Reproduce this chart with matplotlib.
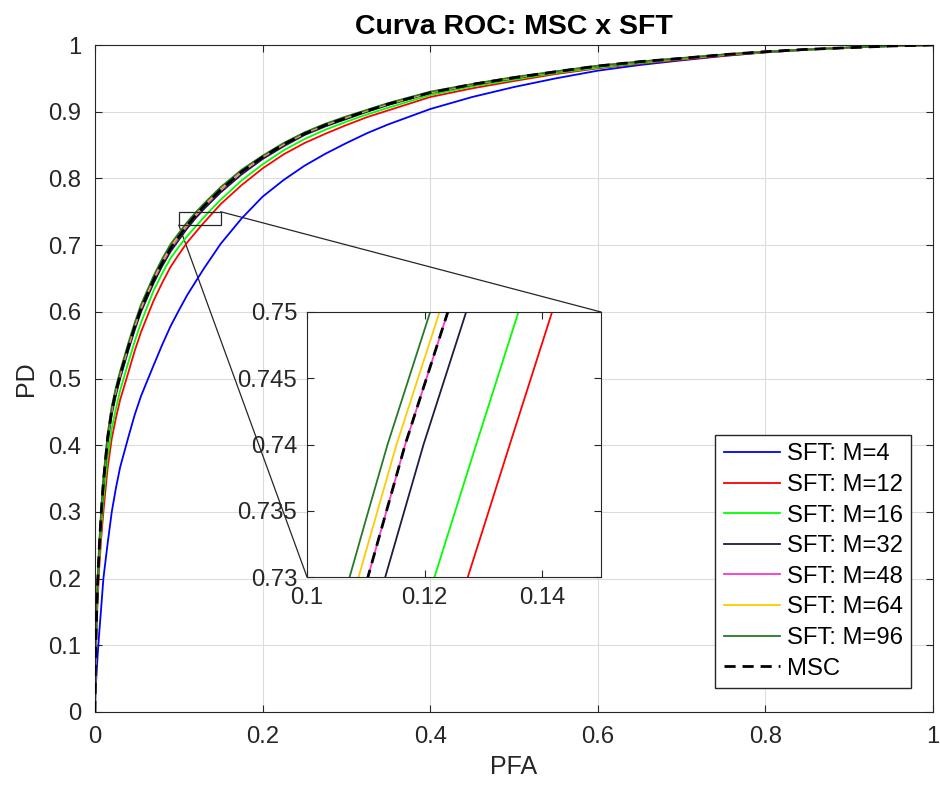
import matplotlib
matplotlib.use('Agg')
import matplotlib.pyplot as plt
from matplotlib.patches import Rectangle, ConnectionPatch
from matplotlib.ticker import FuncFormatter

plt.rcParams['font.family'] = ['Liberation Sans', 'DejaVu Sans']

PFA_GRID = [0, 0.0005, 0.0015, 0.003, 0.005, 0.0075, 0.01, 0.015, 0.02, 0.025,
            0.03, 0.04, 0.0475, 0.055, 0.07, 0.08, 0.09, 0.1, 0.11, 0.13,
            0.15, 0.175, 0.2, 0.225, 0.25, 0.275, 0.3, 0.325, 0.35, 0.4,
            0.45, 0.5, 0.55, 0.6, 0.65, 0.7, 0.75, 0.8, 0.85, 0.9,
            0.95, 1.0]

# Detection probability of each detector on PFA_GRID
PD_M4 = [0, 0.03, 0.05, 0.082, 0.118, 0.158, 0.20, 0.252, 0.30, 0.336,
         0.367, 0.413, 0.446, 0.474, 0.520, 0.550, 0.578, 0.602, 0.625, 0.665,
         0.702, 0.740, 0.7726, 0.7975, 0.819, 0.837, 0.853, 0.868, 0.881, 0.904,
         0.922, 0.937, 0.950, 0.9615, 0.970, 0.977, 0.9835, 0.989, 0.993, 0.996,
         0.9985, 1.0]
PD_M12 = [0, 0.055, 0.11, 0.165, 0.215, 0.262, 0.30, 0.365, 0.41, 0.441,
          0.468, 0.51, 0.542, 0.570, 0.617, 0.643, 0.667, 0.686, 0.704, 0.7337,
          0.7615, 0.790, 0.815, 0.836, 0.853, 0.867, 0.880, 0.892, 0.902, 0.922,
          0.935, 0.946, 0.9565, 0.965, 0.972, 0.978, 0.984, 0.989, 0.993, 0.996,
          0.9985, 1.0]
PD_M16 = [0, 0.06, 0.118, 0.175, 0.228, 0.277, 0.318, 0.382, 0.425, 0.455,
          0.482, 0.525, 0.556, 0.584, 0.632, 0.657, 0.680, 0.6975, 0.7135, 0.7417,
          0.768, 0.797, 0.821, 0.842, 0.859, 0.873, 0.885, 0.896, 0.906, 0.925,
          0.938, 0.948, 0.958, 0.966, 0.973, 0.979, 0.985, 0.9895, 0.993, 0.996,
          0.9985, 1.0]
PD_M32 = [0, 0.065, 0.125, 0.185, 0.24, 0.293, 0.338, 0.403, 0.446, 0.475,
          0.500, 0.543, 0.573, 0.600, 0.643, 0.668, 0.690, 0.7076, 0.725, 0.7541,
          0.779, 0.806, 0.829, 0.848, 0.865, 0.878, 0.889, 0.900, 0.910, 0.928,
          0.940, 0.950, 0.9595, 0.968, 0.9745, 0.980, 0.9855, 0.990, 0.9935, 0.996,
          0.9985, 1.0]
PD_M48 = [0, 0.07, 0.13, 0.19, 0.245, 0.30, 0.345, 0.41, 0.452, 0.481,
          0.505, 0.548, 0.578, 0.605, 0.648, 0.673, 0.695, 0.7126, 0.7295, 0.7583,
          0.783, 0.810, 0.832, 0.851, 0.867, 0.880, 0.891, 0.9015, 0.9115, 0.9285,
          0.941, 0.951, 0.960, 0.9685, 0.975, 0.980, 0.9855, 0.990, 0.9935, 0.996,
          0.9985, 1.0]
PD_M64 = [0, 0.072, 0.133, 0.193, 0.248, 0.303, 0.348, 0.413, 0.455, 0.484,
          0.508, 0.551, 0.581, 0.608, 0.651, 0.676, 0.698, 0.7153, 0.7319, 0.7602,
          0.785, 0.8115, 0.833, 0.852, 0.868, 0.881, 0.892, 0.902, 0.912, 0.929,
          0.941, 0.951, 0.960, 0.9685, 0.975, 0.980, 0.9855, 0.990, 0.9935, 0.996,
          0.9985, 1.0]
PD_M96 = [0, 0.075, 0.136, 0.196, 0.251, 0.306, 0.351, 0.416, 0.458, 0.487,
          0.511, 0.554, 0.584, 0.611, 0.654, 0.679, 0.701, 0.718, 0.7343, 0.7622,
          0.787, 0.813, 0.834, 0.853, 0.869, 0.882, 0.893, 0.903, 0.913, 0.930,
          0.9415, 0.952, 0.9605, 0.969, 0.9752, 0.9805, 0.9858, 0.990, 0.9935, 0.996,
          0.9985, 1.0]
PD_MSC = [0, 0.07, 0.13, 0.19, 0.245, 0.30, 0.345, 0.41, 0.452, 0.481,
          0.505, 0.548, 0.578, 0.605, 0.648, 0.673, 0.695, 0.7126, 0.7295, 0.7583,
          0.783, 0.810, 0.832, 0.851, 0.867, 0.880, 0.891, 0.9015, 0.9115, 0.9285,
          0.941, 0.951, 0.960, 0.9685, 0.975, 0.980, 0.9855, 0.990, 0.9935, 0.996,
          0.9985, 1.0]

# Finer reading inside the zoom window: PFA where each curve hits these PD levels
ZOOM_PD = [0.73, 0.74, 0.75]
ZOOM_PFA_M12 = [0.12735, 0.13449, 0.14168]
ZOOM_PFA_M16 = [0.12169, 0.12877, 0.13596]
ZOOM_PFA_M32 = [0.11331, 0.11982, 0.12707]
ZOOM_PFA_M48 = [0.11036, 0.11670, 0.12395]
ZOOM_PFA_M64 = [0.10878, 0.11523, 0.12254]
ZOOM_PFA_M96 = [0.10725, 0.11370, 0.12095]
ZOOM_PFA_MSC = [0.11036, 0.11670, 0.12395]

LABELS = ['SFT: M=4', 'SFT: M=12', 'SFT: M=16', 'SFT: M=32',
          'SFT: M=48', 'SFT: M=64', 'SFT: M=96', 'MSC']
COLORS = ['#0000ff', '#ff0000', '#00ff00', '#1c1c44',
          '#ff33cc', '#ffcc00', '#267a26', '#000000']

ZOOM_X = (0.1, 0.15)
ZOOM_Y = (0.73, 0.75)


def merge(pd_grid, zoom_pfa):
    # combine the coarse grid with the zoom-window readings, sorted by PFA
    pts = sorted(list(zip(PFA_GRID, pd_grid)) + list(zip(zoom_pfa, ZOOM_PD)))
    return [p[0] for p in pts], [p[1] for p in pts]


curves = [
    (PFA_GRID, PD_M4),
    merge(PD_M12, ZOOM_PFA_M12),
    merge(PD_M16, ZOOM_PFA_M16),
    merge(PD_M32, ZOOM_PFA_M32),
    merge(PD_M48, ZOOM_PFA_M48),
    merge(PD_M64, ZOOM_PFA_M64),
    merge(PD_M96, ZOOM_PFA_M96),
    merge(PD_MSC, ZOOM_PFA_MSC),
]

ink = '#262626'
fs = 17.2
fmt = FuncFormatter(lambda v, _: f'{v:g}')

fig = plt.figure(figsize=(9.4, 7.89), dpi=100)
ax = fig.add_axes([95 / 940, 77 / 789, 838 / 940, 667 / 789])

for (x, y), lab, col in zip(curves, LABELS, COLORS):
    if lab == 'MSC':
        ax.plot(x, y, color=col, lw=2.0, ls=(0, (4, 2.5)), label=lab, zorder=3)
    else:
        ax.plot(x, y, color=col, lw=1.3, label=lab, zorder=2)

ax.set_xlim(0, 1)
ax.set_ylim(0, 1)
ax.set_xticks([0, 0.2, 0.4, 0.6, 0.8, 1.0])
ax.set_yticks([i / 10 for i in range(11)])
ax.xaxis.set_major_formatter(fmt)
ax.yaxis.set_major_formatter(fmt)
ax.grid(True, color='#dcdcdc', lw=0.8)
ax.set_axisbelow(True)
ax.tick_params(direction='in', top=True, right=True, length=5, width=0.8,
               colors=ink, labelsize=fs, pad=10)
for s in ax.spines.values():
    s.set_color(ink)
    s.set_linewidth(0.8)
ax.set_xlabel('PFA', fontsize=18, color=ink, labelpad=5)
ax.set_ylabel('PD', fontsize=18, color=ink, labelpad=7)
ax.set_title('Curva ROC: MSC x SFT', fontsize=20.5, fontweight='bold', pad=8)

ax.legend(loc='lower right', bbox_to_anchor=(0.974, 0.036), borderaxespad=0,
          fontsize=fs, fancybox=False, framealpha=1, edgecolor=ink,
          handlelength=2.35, handletextpad=0.3, labelspacing=0.36, borderpad=0.35)

# zoom window marker on the main axes
ax.add_patch(Rectangle((ZOOM_X[0], ZOOM_Y[0]), ZOOM_X[1] - ZOOM_X[0], ZOOM_Y[1] - ZOOM_Y[0],
                       fill=False, ec=ink, lw=0.9, zorder=4))

# inset axes
axins = fig.add_axes([307 / 940, (789 - 577) / 789, 294 / 940, 265 / 789])
axins.set_zorder(5)
for (x, y), lab, col in zip(curves, LABELS, COLORS):
    if lab == 'MSC':
        axins.plot(x, y, color=col, lw=2.0, ls=(0, (4, 2.5)), zorder=3)
    else:
        axins.plot(x, y, color=col, lw=1.3, zorder=2)
axins.set_xlim(*ZOOM_X)
axins.set_ylim(*ZOOM_Y)
axins.set_xticks([0.1, 0.12, 0.14])
axins.set_yticks([0.73, 0.735, 0.74, 0.745, 0.75])
axins.xaxis.set_major_formatter(fmt)
axins.yaxis.set_major_formatter(fmt)
axins.tick_params(direction='in', top=True, right=True, length=5, width=0.8,
                  colors=ink, labelsize=fs, pad=7)
for s in axins.spines.values():
    s.set_color(ink)
    s.set_linewidth(0.8)

# connector lines from the window to the inset corners
for (xa, ya), (xb, yb) in [((ZOOM_X[0], ZOOM_Y[0]), (0, 0)), ((ZOOM_X[1], ZOOM_Y[1]), (1, 1))]:
    con = ConnectionPatch(xyA=(xa, ya), coordsA=ax.transData,
                          xyB=(xb, yb), coordsB=axins.transAxes,
                          color=ink, lw=0.9)
    ax.add_artist(con)

fig.savefig('out.png', dpi=100)
